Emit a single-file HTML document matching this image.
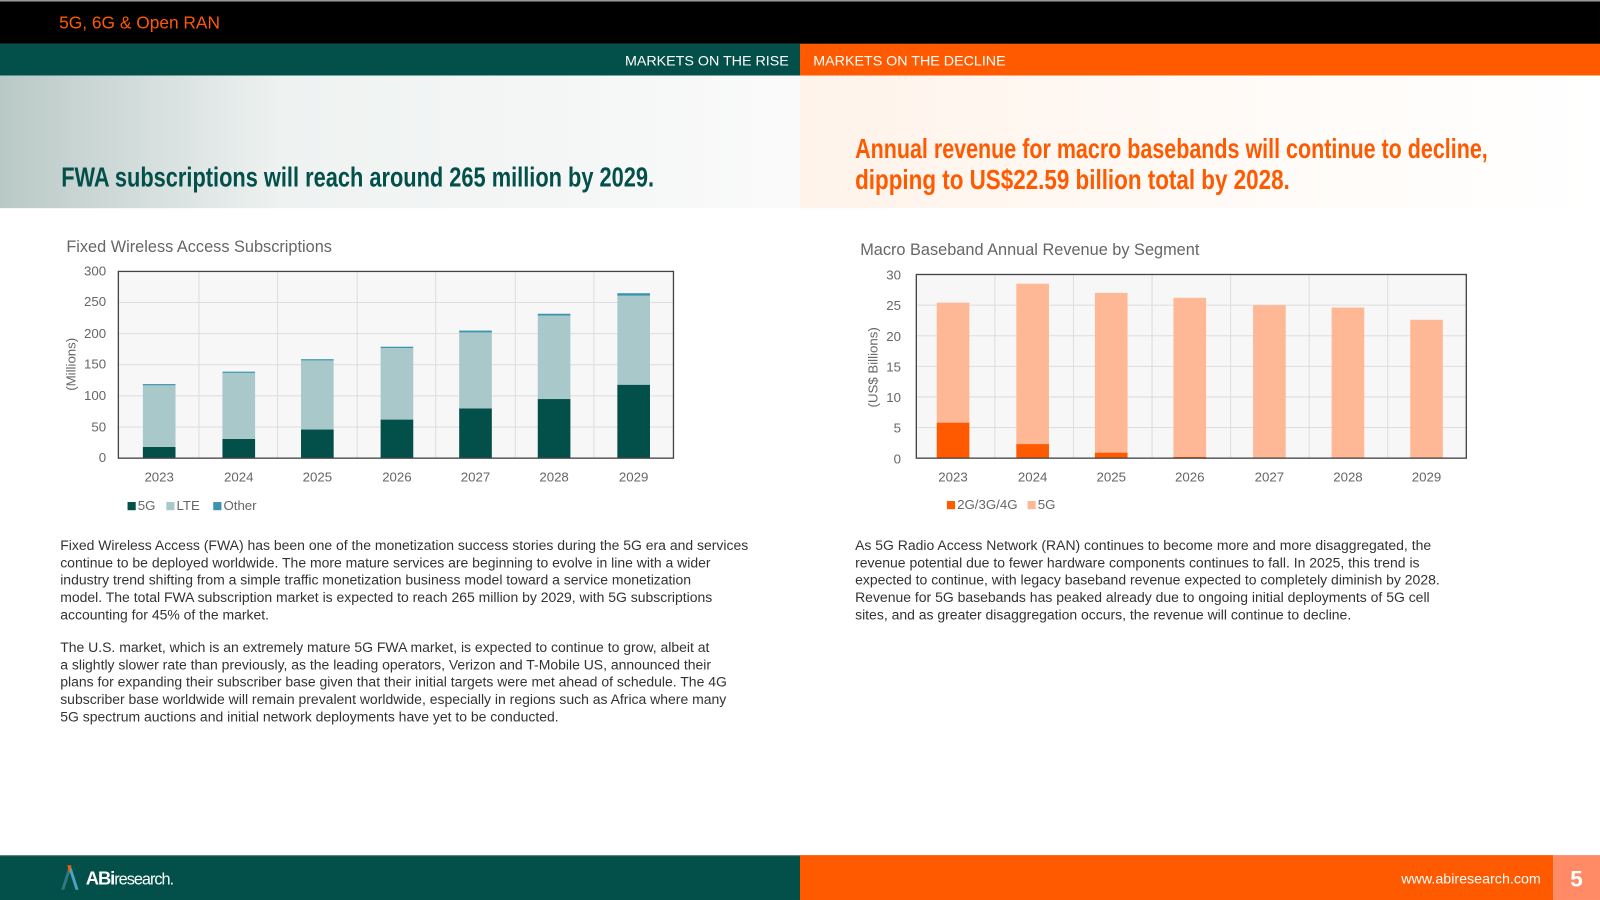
<!DOCTYPE html>
<html><head><meta charset="utf-8"><style>
html,body{margin:0;padding:0;background:#fff;}
body{width:1600px;height:900px;position:relative;overflow:hidden;font-family:"Liberation Sans",sans-serif;}
#w{position:absolute;left:0;top:0;width:1568px;height:882px;transform:scale(1.0204);transform-origin:0 0;}
.p{position:absolute;font-size:13.7px;line-height:17px;color:#333;letter-spacing:0;white-space:nowrap;}
</style></head><body><div id="w">
<svg width="1568" height="882" style="position:absolute;left:0;top:0" font-family="Liberation Sans, sans-serif">
<defs>
<linearGradient id="lg" x1="0" x2="1" y1="0" y2="0">
<stop offset="0" stop-color="#b9c9c6"/><stop offset="0.35" stop-color="#eef2f1"/><stop offset="1" stop-color="#fafafa"/></linearGradient>
<linearGradient id="rg" x1="0" x2="1"><stop offset="0" stop-color="#fff3ea"/><stop offset="0.5" stop-color="#fffaf6"/><stop offset="1" stop-color="#fff"/></linearGradient>
</defs>
<rect x="0" y="0" width="1568" height="43" fill="#000"/>
<rect x="0" y="0" width="1568" height="1.5" fill="#999"/>
<text x="58" y="28" fill="#ff5a00" font-size="17">5G, 6G &amp; Open RAN</text>
<rect x="0" y="43" width="784" height="31" fill="#03504a"/>
<rect x="784" y="43" width="784" height="31" fill="#ff5a00"/>
<text x="773" y="64" fill="#fff" font-size="14" text-anchor="end">MARKETS ON THE RISE</text>
<text x="797" y="64" fill="#fff" font-size="14">MARKETS ON THE DECLINE</text>
<rect x="0" y="74" width="784" height="130" fill="url(#lg)"/>
<rect x="784" y="74" width="784" height="130" fill="url(#rg)"/>
<text x="60" y="183" fill="#03504a" font-size="27" font-weight="bold" textLength="581" lengthAdjust="spacingAndGlyphs">FWA subscriptions will reach around 265 million by 2029.</text>
<text x="838" y="155" fill="#ff5a00" font-size="27" font-weight="bold" textLength="620" lengthAdjust="spacingAndGlyphs">Annual revenue for macro basebands will continue to decline,</text>
<text x="838" y="185" fill="#ff5a00" font-size="27" font-weight="bold" textLength="426" lengthAdjust="spacingAndGlyphs">dipping to US$22.59 billion total by 2028.</text>

<text x="65" y="247" fill="#666" font-size="16">Fixed Wireless Access Subscriptions</text>
<rect x="116" y="266" width="544" height="183" fill="#f7f7f7"/>
<g stroke="#ddd" stroke-width="1">
<line x1="116" x2="660" y1="296.5" y2="296.5"/><line x1="116" x2="660" y1="327" y2="327"/><line x1="116" x2="660" y1="357.5" y2="357.5"/><line x1="116" x2="660" y1="388" y2="388"/><line x1="116" x2="660" y1="418.5" y2="418.5"/>
<line x1="195" x2="195" y1="266" y2="449"/><line x1="272" x2="272" y1="266" y2="449"/><line x1="350" x2="350" y1="266" y2="449"/><line x1="427" x2="427" y1="266" y2="449"/><line x1="505" x2="505" y1="266" y2="449"/><line x1="582" x2="582" y1="266" y2="449"/>
</g>
<g id="bl"></g>
<rect x="116" y="266" width="544" height="183" fill="none" stroke="#444" stroke-width="1.3"/>
<g fill="#666" font-size="13" text-anchor="end">
<text x="104" y="270">300</text><text x="104" y="300">250</text><text x="104" y="331">200</text><text x="104" y="361">150</text><text x="104" y="392">100</text><text x="104" y="423">50</text><text x="104" y="453">0</text>
</g>
<text transform="translate(74,357) rotate(-90)" fill="#666" font-size="13" text-anchor="middle">(Millions)</text>
<g fill="#666" font-size="13" text-anchor="middle">
<text x="156" y="472">2023</text><text x="234" y="472">2024</text><text x="311" y="472">2025</text><text x="389" y="472">2026</text><text x="466" y="472">2027</text><text x="543" y="472">2028</text><text x="621" y="472">2029</text>
</g>
<rect x="125" y="492" width="8" height="8" fill="#03504a"/><text x="135" y="500" font-size="13" fill="#666">5G</text>
<rect x="163" y="492" width="8" height="8" fill="#a9c8c9"/><text x="173" y="500" font-size="13" fill="#666">LTE</text>
<rect x="209" y="492" width="8" height="8" fill="#3a94b0"/><text x="219" y="500" font-size="13" fill="#666">Other</text>

<text x="843" y="250" fill="#666" font-size="16">Macro Baseband Annual Revenue by Segment</text>
<rect x="898" y="269" width="539" height="180" fill="#f7f7f7"/>
<g stroke="#ddd" stroke-width="1">
<line x1="898" x2="1437" y1="299" y2="299"/><line x1="898" x2="1437" y1="329" y2="329"/><line x1="898" x2="1437" y1="359" y2="359"/><line x1="898" x2="1437" y1="389" y2="389"/><line x1="898" x2="1437" y1="419" y2="419"/>
<line x1="975" x2="975" y1="269" y2="449"/><line x1="1052" x2="1052" y1="269" y2="449"/><line x1="1129" x2="1129" y1="269" y2="449"/><line x1="1206" x2="1206" y1="269" y2="449"/><line x1="1283" x2="1283" y1="269" y2="449"/><line x1="1360" x2="1360" y1="269" y2="449"/>
</g>
<g id="br"></g>
<rect x="898" y="269" width="539" height="180" fill="none" stroke="#444" stroke-width="1.3"/>
<g fill="#666" font-size="13" text-anchor="end">
<text x="883" y="274">30</text><text x="883" y="304">25</text><text x="883" y="334">20</text><text x="883" y="364">15</text><text x="883" y="394">10</text><text x="883" y="424">5</text><text x="883" y="454">0</text>
</g>
<text transform="translate(860,360) rotate(-90)" fill="#666" font-size="13" text-anchor="middle">(US$ Billions)</text>
<g fill="#666" font-size="13" text-anchor="middle">
<text x="934" y="472">2023</text><text x="1012" y="472">2024</text><text x="1089" y="472">2025</text><text x="1166" y="472">2026</text><text x="1244" y="472">2027</text><text x="1321" y="472">2028</text><text x="1398" y="472">2029</text>
</g>
<rect x="928" y="491" width="8" height="8" fill="#ff5a00"/><text x="938" y="499" font-size="13" fill="#666">2G/3G/4G</text>
<rect x="1007" y="491" width="8" height="8" fill="#ffb896"/><text x="1017" y="499" font-size="13" fill="#666">5G</text>

<rect x="0" y="838" width="784" height="44" fill="#03504a"/>
<rect x="0" y="838" width="784" height="1" fill="#5a8a86"/>
<rect x="784" y="838" width="738" height="44" fill="#ff5a00"/>
<rect x="1522" y="838" width="46" height="44" fill="#ff8b66"/>
<path d="M60 872 L67 850 L70 850 L63 872Z" fill="#2f7a7f"/>
<path d="M67 850 L70 850 L77 872 L74 872Z" fill="#4fa3c1"/>
<path d="M66 848 L70 848 L68 856Z" fill="#ff5a00"/>
<text x="84" y="867" fill="#fff" font-size="18" font-weight="bold" letter-spacing="-1">ABi<tspan font-weight="normal" font-size="16">research.</tspan></text>
<text x="1510" y="866" fill="#fff" font-size="14" text-anchor="end">www.abiresearch.com</text>
<text x="1545" y="869" fill="#fff" font-size="22" font-weight="bold" text-anchor="middle">5</text>
</svg>
<script>
(function(){
var ns="http://www.w3.org/2000/svg";
function r(g,x,y,w,h,c){var e=document.createElementNS(ns,"rect");e.setAttribute("x",x);e.setAttribute("y",y);e.setAttribute("width",w);e.setAttribute("height",h);e.setAttribute("fill",c);g.appendChild(e);}
var g=document.getElementById("bl");
var cx=[156,234,311,389,466,543,621],a=[18,31,46,62,80,95,118],b=[117,137,157,177,202,229,261],c=[119,139,159,179,205,232,265];
function Y(v){return 449-v*183/300;}
for(var i=0;i<7;i++){r(g,cx[i]-16,Y(a[i]),32,449-Y(a[i]),"#03504a");r(g,cx[i]-16,Y(b[i]),32,Y(a[i])-Y(b[i]),"#a9c8c9");r(g,cx[i]-16,Y(c[i]),32,Y(b[i])-Y(c[i]),"#3a94b0");}
var h=document.getElementById("br");
var rx=[934,1012,1089,1166,1244,1321,1398],s=[5.8,2.3,0.9,0.2,0,0,0],t=[25.4,28.5,27,26.2,25,24.6,22.6];
function Z(v){return 449-v*6;}
for(var j=0;j<7;j++){r(h,rx[j]-16,Z(t[j]),32,Z(s[j])-Z(t[j]),"#ffb896");if(s[j]>0)r(h,rx[j]-16,Z(s[j]),32,449-Z(s[j]),"#ff5a00");}
})();
</script>
<div class="p" style="left:59px;top:526px;">Fixed Wireless Access (FWA) has been one of the monetization success stories during the 5G era and services<br>continue to be deployed worldwide. The more mature services are beginning to evolve in line with a wider<br>industry trend shifting from a simple traffic monetization business model toward a service monetization<br>model. The total FWA subscription market is expected to reach 265 million by 2029, with 5G subscriptions<br>accounting for 45% of the market.</div>
<div class="p" style="left:59px;top:626px;">The U.S. market, which is an extremely mature 5G FWA market, is expected to continue to grow, albeit at<br>a slightly slower rate than previously, as the leading operators, Verizon and T-Mobile US, announced their<br>plans for expanding their subscriber base given that their initial targets were met ahead of schedule. The 4G<br>subscriber base worldwide will remain prevalent worldwide, especially in regions such as Africa where many<br>5G spectrum auctions and initial network deployments have yet to be conducted.</div>
<div class="p" style="left:838px;top:526px;">As 5G Radio Access Network (RAN) continues to become more and more disaggregated, the<br>revenue potential due to fewer hardware components continues to fall. In 2025, this trend is<br>expected to continue, with legacy baseband revenue expected to completely diminish by 2028.<br>Revenue for 5G basebands has peaked already due to ongoing initial deployments of 5G cell<br>sites, and as greater disaggregation occurs, the revenue will continue to decline.</div>
</div></body></html>
